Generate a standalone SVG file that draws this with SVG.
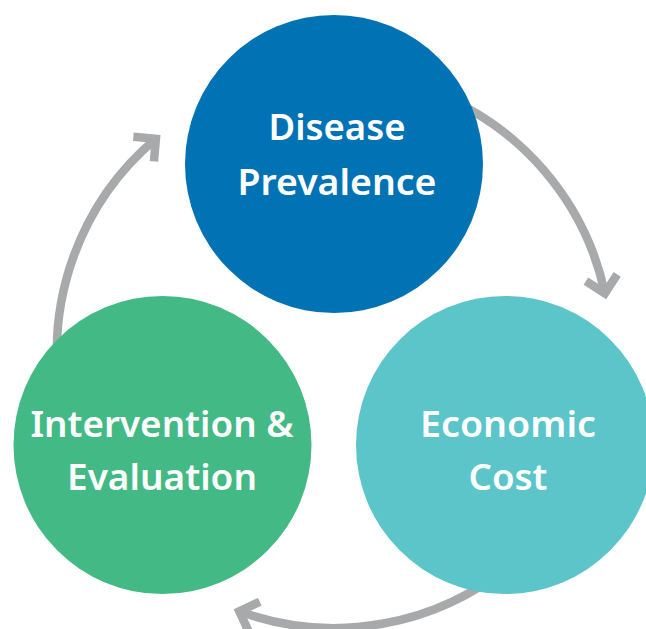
<svg xmlns="http://www.w3.org/2000/svg" width="646" height="629" viewBox="0 0 646 629">
  <style>
    .arc { fill: none; stroke: #A7A9AA; stroke-width: 8.5; stroke-linecap: butt; }
    .lbl { fill: #FFFFFF; font-family: "Noto Sans", "Open Sans", "Liberation Sans", sans-serif; font-weight: 600; font-size: 36px; text-anchor: middle; }
  </style>
  <defs>
    <marker id="chev" markerUnits="userSpaceOnUse" markerWidth="60" markerHeight="60" refX="0" refY="0" orient="auto" overflow="visible" viewBox="-30 -30 60 60">
      <path d="M -16,-16 L 0,0 L -16,16" fill="none" stroke="#A7A9AA" stroke-width="8.5" stroke-linejoin="miter" stroke-miterlimit="10"/>
    </marker>
  </defs>
  <rect width="646" height="629" fill="#FFFFFF"/>
  <g id="connectors">
    <path class="arc" d="M 428.7,90.7 A 277,277 0 0 1 604.9,293.4" marker-end="url(#chev)"/>
    <path class="arc" d="M 512.1,563.2 A 277,277 0 0 1 239.3,611.3" marker-end="url(#chev)"/>
    <path class="arc" d="M 61.2,399.1 A 277,277 0 0 1 155.9,138.8" marker-end="url(#chev)"/>
  </g>
  <g id="node-disease">
    <circle cx="334" cy="164" r="149" fill="#0172B4"/>
    <text class="lbl" x="337" y="140" textLength="137" lengthAdjust="spacingAndGlyphs">Disease</text>
    <text class="lbl" x="337" y="195" textLength="199" lengthAdjust="spacingAndGlyphs">Prevalence</text>
  </g>
  <g id="node-economic">
    <circle cx="505" cy="445" r="149" fill="#5BC5CA"/>
    <text class="lbl" x="508" y="437" textLength="176" lengthAdjust="spacingAndGlyphs">Economic</text>
    <text class="lbl" x="508" y="490" textLength="79" lengthAdjust="spacingAndGlyphs">Cost</text>
  </g>
  <g id="node-intervention">
    <circle cx="162.5" cy="445" r="149" fill="#43B985"/>
    <text class="lbl" x="162" y="437" textLength="263" lengthAdjust="spacingAndGlyphs">Intervention &amp;</text>
    <text class="lbl" x="162" y="490" textLength="190" lengthAdjust="spacingAndGlyphs">Evaluation</text>
  </g>
</svg>
